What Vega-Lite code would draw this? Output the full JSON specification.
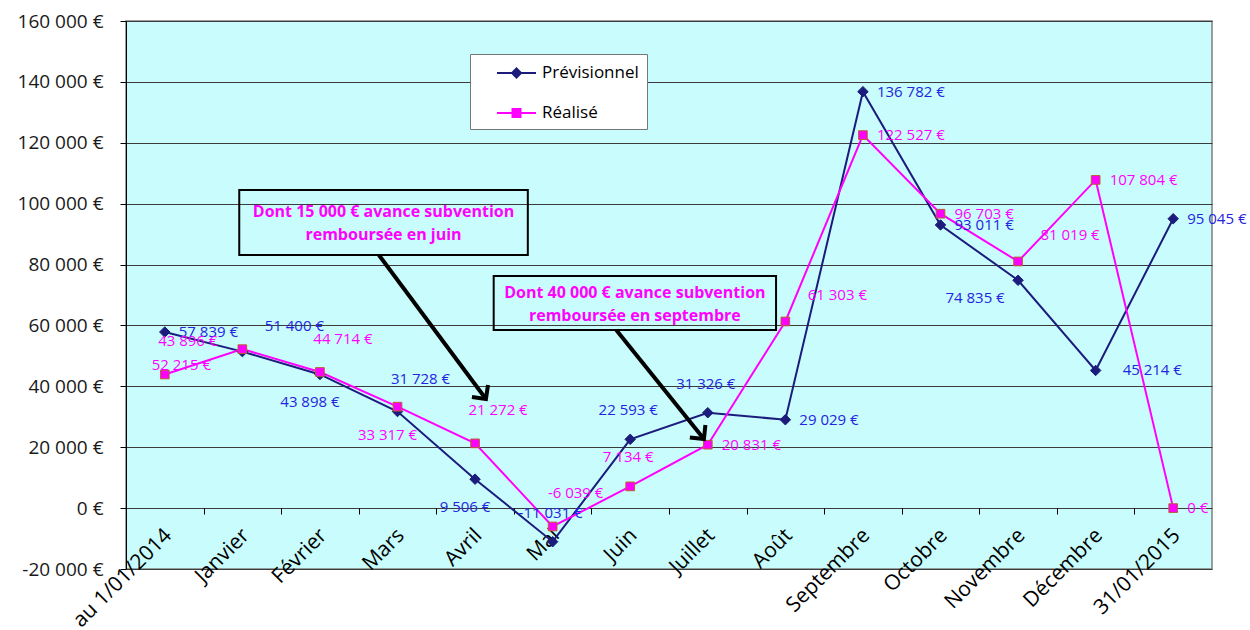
{
  "$schema": "https://vega.github.io/schema/vega-lite/v6.json",
  "width": 1086,
  "height": 548,
  "padding": {"left": 17, "top": 12, "right": 0, "bottom": 0},
  "background": "white",
  "data": {
    "values": [
      {"i": 0, "mois": "au 1/01/2014", "serie": "Prévisionnel", "valeur": 57839},
      {"i": 1, "mois": "Janvier", "serie": "Prévisionnel", "valeur": 51400},
      {"i": 2, "mois": "Février", "serie": "Prévisionnel", "valeur": 43898},
      {"i": 3, "mois": "Mars", "serie": "Prévisionnel", "valeur": 31728},
      {"i": 4, "mois": "Avril", "serie": "Prévisionnel", "valeur": 9506},
      {"i": 5, "mois": "Mai", "serie": "Prévisionnel", "valeur": -11031},
      {"i": 6, "mois": "Juin", "serie": "Prévisionnel", "valeur": 22593},
      {"i": 7, "mois": "Juillet", "serie": "Prévisionnel", "valeur": 31326},
      {"i": 8, "mois": "Août", "serie": "Prévisionnel", "valeur": 29029},
      {"i": 9, "mois": "Septembre", "serie": "Prévisionnel", "valeur": 136782},
      {"i": 10, "mois": "Octobre", "serie": "Prévisionnel", "valeur": 93011},
      {"i": 11, "mois": "Novembre", "serie": "Prévisionnel", "valeur": 74835},
      {"i": 12, "mois": "Décembre", "serie": "Prévisionnel", "valeur": 45214},
      {"i": 13, "mois": "31/01/2015", "serie": "Prévisionnel", "valeur": 95045},
      {"i": 0, "mois": "au 1/01/2014", "serie": "Réalisé", "valeur": 43896},
      {"i": 1, "mois": "Janvier", "serie": "Réalisé", "valeur": 52215},
      {"i": 2, "mois": "Février", "serie": "Réalisé", "valeur": 44714},
      {"i": 3, "mois": "Mars", "serie": "Réalisé", "valeur": 33317},
      {"i": 4, "mois": "Avril", "serie": "Réalisé", "valeur": 21272},
      {"i": 5, "mois": "Mai", "serie": "Réalisé", "valeur": -6039},
      {"i": 6, "mois": "Juin", "serie": "Réalisé", "valeur": 7134},
      {"i": 7, "mois": "Juillet", "serie": "Réalisé", "valeur": 20831},
      {"i": 8, "mois": "Août", "serie": "Réalisé", "valeur": 61303},
      {"i": 9, "mois": "Septembre", "serie": "Réalisé", "valeur": 122527},
      {"i": 10, "mois": "Octobre", "serie": "Réalisé", "valeur": 96703},
      {"i": 11, "mois": "Novembre", "serie": "Réalisé", "valeur": 81019},
      {"i": 12, "mois": "Décembre", "serie": "Réalisé", "valeur": 107804},
      {"i": 13, "mois": "31/01/2015", "serie": "Réalisé", "valeur": 0}
    ]
  },
  "layer": [
    {
      "encoding": {
        "x": {
          "field": "i",
          "type": "quantitative",
          "title": null,
          "scale": {"domain": [-0.5, 13.5], "nice": false, "zero": false},
          "axis": {
            "values": [0, 1, 2, 3, 4, 5, 6, 7, 8, 9, 10, 11, 12, 13],
            "labelExpr": "['au 1/01/2014','Janvier','Février','Mars','Avril','Mai','Juin','Juillet','Août','Septembre','Octobre','Novembre','Décembre','31/01/2015'][datum.value]",
            "labelAngle": -45,
            "labelAlign": "right",
            "labelBaseline": "middle",
            "labelFontSize": 21,
            "labelColor": "#000000",
            "labelPadding": 18,
            "tickOffset": -38.8,
            "labelOffset": 42,
            "tickSize": 6,
            "tickColor": "#000000",
            "domain": false,
            "grid": false,
            "offset": -61,
            "labelOverlap": false
          }
        },
        "y": {
          "field": "valeur",
          "type": "quantitative",
          "title": null,
          "scale": {"domain": [-20000, 160000], "nice": false},
          "axis": {
            "values": [-20000, 0, 20000, 40000, 60000, 80000, 100000, 120000, 140000, 160000],
            "format": "$,.0f",
            "labelFontSize": 19,
            "labelColor": "#1a1a1a",
            "labelPadding": 17,
            "tickSize": 6,
            "tickColor": "#000000",
            "domainColor": "#000000",
            "grid": true,
            "gridColor": "#3c3c3c",
            "gridOpacity": 1
          }
        }
      },
      "layer": [
        {
          "mark": {"type": "line", "strokeWidth": 2},
          "encoding": {
            "color": {
              "field": "serie",
              "type": "nominal",
              "scale": {"domain": ["Prévisionnel", "Réalisé"], "range": ["#1C1C7C", "#FF00FF"]},
              "legend": {
                "orient": "none",
                "legendX": 344,
                "legendY": 33,
                "title": null,
                "fillColor": "white",
                "strokeColor": "#777777",
                "padding": 8,
                "symbolType": "M0.8,0L4.7,0",
                "symbolSize": 400,
                "rowPadding": 20,
                "labelOffset": 42,
                "labelFontSize": 17,
                "labelColor": "#000000",
                "encode": {
                  "symbols": {
                    "update": {
                      "shape": {"signal": "datum.value === 'Prévisionnel' ? 'M0.8,0L4.7,0M2.75,-0.45L3.2,0L2.75,0.45L2.3,0Z' : 'M0.8,0L4.7,0M2.35,-0.4L3.15,-0.4L3.15,0.4L2.35,0.4Z'"},
                      "stroke": {"signal": "datum.value === 'Prévisionnel' ? '#1C1C7C' : '#FF00FF'"},
                      "fill": {"signal": "datum.value === 'Prévisionnel' ? '#1C1C7C' : '#FF00FF'"},
                      "strokeWidth": {"value": 2},
                      "opacity": {"value": 1}
                    }
                  }
                }
              }
            },
            "order": {"field": "i"}
          }
        },
        {
          "mark": {"type": "point", "filled": true, "opacity": 1, "strokeWidth": 1},
          "encoding": {
            "fill": {"condition": {"test": "datum.serie === 'Prévisionnel'", "value": "#1C1C7C"}, "value": "#FF00FF"},
            "shape": {"condition": {"test": "datum.serie === 'Prévisionnel'", "value": "diamond"}, "value": "square"},
            "size": {"condition": {"test": "datum.serie === 'Prévisionnel'", "value": 110}, "value": 75},
            "stroke": {"condition": {"test": "datum.serie === 'Réalisé'", "value": "#B8602E"}, "value": "#1C1C7C"}
          }
        },
        {
          "transform": [{"filter": "indexof(['P0','P8','P9','P10','P13','R7','R9','R10','R12','R13'], slice(datum.serie, 0, 1) + datum.i) >= 0"}],
          "mark": {"type": "text", "align": "left", "baseline": "middle", "dx": 14, "fontSize": 15},
          "encoding": {
            "text": {"field": "valeur", "type": "quantitative", "format": "$,.0f"},
            "color": {"condition": {"test": "datum.serie === 'Prévisionnel'", "value": "#2424E0"}, "value": "#FF00FF"}
          }
        },
        {
          "transform": [{"filter": "indexof(['P12'], slice(datum.serie, 0, 1) + datum.i) >= 0"}],
          "mark": {"type": "text", "align": "left", "baseline": "middle", "dx": 27, "fontSize": 15},
          "encoding": {
            "text": {"field": "valeur", "type": "quantitative", "format": "$,.0f"},
            "color": {"value": "#2424E0"}
          }
        },
        {
          "transform": [{"filter": "indexof(['R0','R2','R4','R5','P3'], slice(datum.serie, 0, 1) + datum.i) >= 0"}],
          "mark": {"type": "text", "align": "center", "baseline": "middle", "dx": 23, "dy": -33, "fontSize": 15},
          "encoding": {
            "text": {"field": "valeur", "type": "quantitative", "format": "$,.0f"},
            "color": {"condition": {"test": "datum.serie === 'Prévisionnel'", "value": "#2424E0"}, "value": "#FF00FF"}
          }
        },
        {
          "transform": [{"filter": "indexof(['P5','P6','P7','R6'], slice(datum.serie, 0, 1) + datum.i) >= 0"}],
          "mark": {"type": "text", "align": "center", "baseline": "middle", "dx": -2, "dy": -29, "fontSize": 15},
          "encoding": {
            "text": {"field": "valeur", "type": "quantitative", "format": "$,.0f"},
            "color": {"condition": {"test": "datum.serie === 'Prévisionnel'", "value": "#2424E0"}, "value": "#FF00FF"}
          }
        },
        {
          "transform": [{"filter": "indexof(['P2','P4','R3'], slice(datum.serie, 0, 1) + datum.i) >= 0"}],
          "mark": {"type": "text", "align": "center", "baseline": "middle", "dx": -10, "dy": 28, "fontSize": 15},
          "encoding": {
            "text": {"field": "valeur", "type": "quantitative", "format": "$,.0f"},
            "color": {"condition": {"test": "datum.serie === 'Prévisionnel'", "value": "#2424E0"}, "value": "#FF00FF"}
          }
        },
        {
          "transform": [{"filter": "indexof(['P1','R8','R11'], slice(datum.serie, 0, 1) + datum.i) >= 0"}],
          "mark": {"type": "text", "align": "center", "baseline": "middle", "dx": 52, "dy": -26, "fontSize": 15},
          "encoding": {
            "text": {"field": "valeur", "type": "quantitative", "format": "$,.0f"},
            "color": {"condition": {"test": "datum.serie === 'Prévisionnel'", "value": "#2424E0"}, "value": "#FF00FF"}
          }
        },
        {
          "transform": [{"filter": "indexof(['R1'], slice(datum.serie, 0, 1) + datum.i) >= 0"}],
          "mark": {"type": "text", "align": "center", "baseline": "middle", "dx": -61, "dy": 16, "fontSize": 15},
          "encoding": {
            "text": {"field": "valeur", "type": "quantitative", "format": "$,.0f"},
            "color": {"value": "#FF00FF"}
          }
        },
        {
          "transform": [{"filter": "indexof(['P11'], slice(datum.serie, 0, 1) + datum.i) >= 0"}],
          "mark": {"type": "text", "align": "center", "baseline": "middle", "dx": -43, "dy": 18, "fontSize": 15},
          "encoding": {
            "text": {"field": "valeur", "type": "quantitative", "format": "$,.0f"},
            "color": {"value": "#2424E0"}
          }
        }
      ]
    },
    {
      "data": {"values": [{"boite": "juin"}]},
      "mark": {"type": "rect", "fillOpacity": 0, "stroke": "#000000", "strokeWidth": 2},
      "encoding": {
        "x": {"datum": 0.96, "type": "quantitative", "title": null},
        "x2": {"datum": 4.68},
        "y": {"datum": 104490, "type": "quantitative", "title": null},
        "y2": {"datum": 83140}
      }
    },
    {
      "data": {"values": [{"boite": "septembre"}]},
      "mark": {"type": "rect", "fillOpacity": 0, "stroke": "#000000", "strokeWidth": 2},
      "encoding": {
        "x": {"datum": 4.24, "type": "quantitative", "title": null},
        "x2": {"datum": 7.88},
        "y": {"datum": 76240, "type": "quantitative", "title": null},
        "y2": {"datum": 58500}
      }
    },
    {
      "data": {"values": [{"boite": "juin"}]},
      "mark": {"type": "text", "text": ["Dont 15 000 € avance subvention", "remboursée en juin"], "lineHeight": 23, "align": "center", "baseline": "middle", "fontSize": 16, "fontWeight": "bold", "color": "#FF00FF"},
      "encoding": {
        "x": {"datum": 2.82, "type": "quantitative", "title": null},
        "y": {"datum": 97260, "type": "quantitative", "title": null}
      }
    },
    {
      "data": {"values": [{"boite": "septembre"}]},
      "mark": {"type": "text", "text": ["Dont 40 000 € avance subvention", "remboursée en septembre"], "lineHeight": 23, "align": "center", "baseline": "middle", "fontSize": 16, "fontWeight": "bold", "color": "#FF00FF"},
      "encoding": {
        "x": {"datum": 6.06, "type": "quantitative", "title": null},
        "y": {"datum": 70660, "type": "quantitative", "title": null}
      }
    },
    {
      "data": {"values": [{"boite": "juin"}]},
      "mark": {"type": "rule", "stroke": "#000000", "strokeWidth": 4},
      "encoding": {
        "x": {"datum": 2.76, "type": "quantitative", "title": null},
        "x2": {"datum": 4.14},
        "y": {"datum": 83140, "type": "quantitative", "title": null},
        "y2": {"datum": 35840}
      }
    },
    {
      "data": {"values": [{"boite": "septembre"}]},
      "mark": {"type": "rule", "stroke": "#000000", "strokeWidth": 4},
      "encoding": {
        "x": {"datum": 5.82, "type": "quantitative", "title": null},
        "x2": {"datum": 6.95},
        "y": {"datum": 58500, "type": "quantitative", "title": null},
        "y2": {"datum": 22700}
      }
    },
    {
      "data": {"values": [{"boite": "juin"}]},
      "mark": {"type": "point", "shape": "M-1,1L0,0L1,1", "filled": false, "stroke": "#000000", "strokeWidth": 4, "size": 400, "angle": 143.4, "opacity": 1},
      "encoding": {
        "x": {"datum": 4.14, "type": "quantitative", "title": null},
        "y": {"datum": 35840, "type": "quantitative", "title": null}
      }
    },
    {
      "data": {"values": [{"boite": "septembre"}]},
      "mark": {"type": "point", "shape": "M-1,1L0,0L1,1", "filled": false, "stroke": "#000000", "strokeWidth": 4, "size": 400, "angle": 141.1, "opacity": 1},
      "encoding": {
        "x": {"datum": 6.95, "type": "quantitative", "title": null},
        "y": {"datum": 22700, "type": "quantitative", "title": null}
      }
    }
  ],
  "config": {
    "font": "Open Sans",
    "view": {"fill": "#C9FCFC", "stroke": "#808080", "strokeWidth": 1.5},
    "locale": {
      "number": {
        "decimal": ",",
        "thousands": " ",
        "grouping": [3],
        "currency": ["", " €"],
        "minus": "-"
      }
    }
  }
}
